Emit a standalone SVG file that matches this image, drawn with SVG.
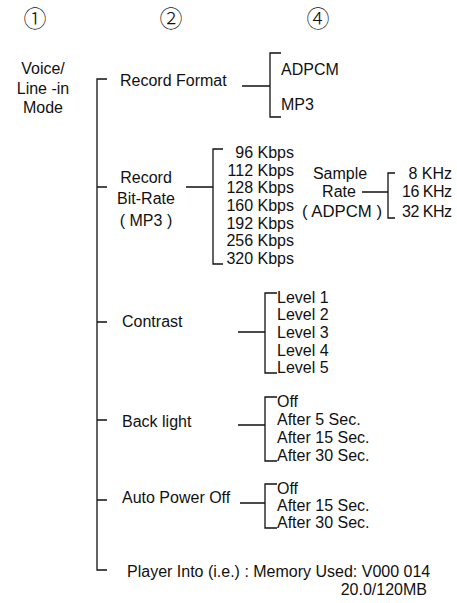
<svg xmlns="http://www.w3.org/2000/svg" width="457" height="603" viewBox="0 0 457 603">
<style>
text{font-family:"Liberation Sans",Arial,sans-serif;font-size:16px;fill:#111}
.c{text-anchor:middle}
.r{text-anchor:end}
.num{font-family:"Noto Sans CJK JP","DejaVu Sans",sans-serif;font-size:23px;font-weight:300;text-anchor:middle}
.ln{fill:none;stroke:#111;stroke-width:1.3}
</style>
<rect width="457" height="603" fill="#fff"/>
<g id="headers">
<text class="num" x="35" y="27">①</text>
<text class="num" x="171" y="27">②</text>
<text class="num" x="318" y="27">④</text>
</g>
<g id="connectors">
<path class="ln" d="M107,79H97V570H107M97,187H107M97,322H107M97,420H107M97,500H107"/>
<path class="ln" d="M242,86H270M281,53H270V117H281"/>
<path class="ln" d="M186,187H213M223,149H213V264H223"/>
<path class="ln" d="M362,192H388M395,173H388V218H395"/>
<path class="ln" d="M238,332H265M277,293H265V373H277"/>
<path class="ln" d="M238,425H265M277,397H265V461H277"/>
<path class="ln" d="M240,503H265M277,484H265V528H277"/>
</g>
<g id="mode">
<text class="c" x="43" y="74">Voice/</text>
<text class="c" x="43" y="94">Line -in</text>
<text class="c" x="43" y="113">Mode</text>
</g>
<g id="record-format">
<text x="120" y="86">Record Format</text>
</g>
<g id="format-options">
<text x="281" y="75">ADPCM</text>
<text x="281" y="110">MP3</text>
</g>
<g id="bit-rate">
<text class="c" x="146" y="183">Record</text>
<text class="c" x="146" y="204">Bit-Rate</text>
<text class="c" x="146" y="226">( MP3 )</text>
</g>
<g id="bit-rate-options">
<text class="r" x="294" y="158">96 Kbps</text>
<text class="r" x="294" y="176">112 Kbps</text>
<text class="r" x="294" y="193">128 Kbps</text>
<text class="r" x="294" y="211">160 Kbps</text>
<text class="r" x="294" y="229">192 Kbps</text>
<text class="r" x="294" y="246">256 Kbps</text>
<text class="r" x="294" y="264">320 Kbps</text>
</g>
<g id="sample-rate">
<text class="c" x="340" y="179">Sample</text>
<text class="c" x="339" y="197">Rate</text>
<text class="c" x="342" y="217" textLength="80" lengthAdjust="spacingAndGlyphs">( ADPCM )</text>
</g>
<g id="sample-rate-options">
<text class="r" x="452" y="179">8 KHz</text>
<text class="r" x="452" y="197" textLength="50" lengthAdjust="spacing">16 KHz</text>
<text class="r" x="452" y="217" textLength="50" lengthAdjust="spacing">32 KHz</text>
</g>
<g id="contrast">
<text x="122" y="327">Contrast</text>
</g>
<g id="contrast-options">
<text x="277" y="303">Level 1</text>
<text x="277" y="320">Level 2</text>
<text x="277" y="338">Level 3</text>
<text x="277" y="356">Level 4</text>
<text x="277" y="373">Level 5</text>
</g>
<g id="back-light">
<text x="122" y="427">Back light</text>
</g>
<g id="back-light-options">
<text x="277" y="407">Off</text>
<text x="277" y="425">After 5 Sec.</text>
<text x="277" y="443">After 15 Sec.</text>
<text x="277" y="461">After 30 Sec.</text>
</g>
<g id="auto-power-off">
<text x="122" y="503">Auto Power Off</text>
</g>
<g id="auto-power-off-options">
<text x="277" y="494">Off</text>
<text x="277" y="511">After 15 Sec.</text>
<text x="277" y="528">After 30 Sec.</text>
</g>
<g id="player-info">
<text x="127" y="577">Player Into (i.e.) : Memory Used: V000 014</text>
<text class="r" x="427" y="595">20.0/120MB</text>
</g>
</svg>
